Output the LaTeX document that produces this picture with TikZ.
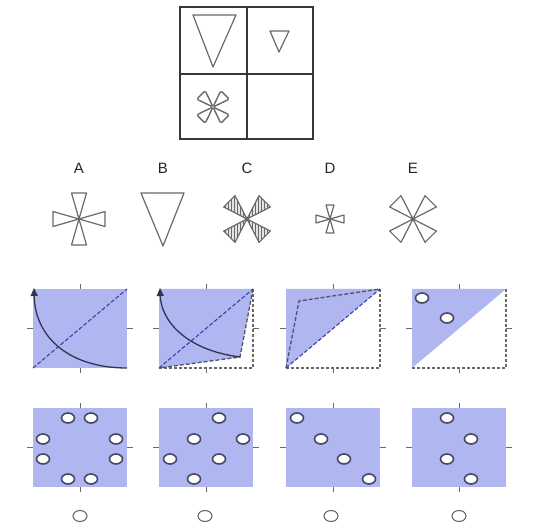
\documentclass[tikz,border=0pt]{standalone}
\usepackage{fontspec}
\setsansfont{Liberation Sans}
\usepackage{tikz}
\usetikzlibrary{arrows.meta, patterns}
\definecolor{panelblue}{RGB}{176,182,240}
\definecolor{dashblue}{RGB}{60,62,175}
\definecolor{curvecol}{RGB}{50,52,82}
\definecolor{shapegray}{RGB}{105,105,105}
\definecolor{gridgray}{RGB}{55,55,55}
\tikzstyle{gridline} = [draw=gridgray, line width=1.4pt]
\tikzstyle{shapeline} = [draw=shapegray, line width=1.2pt, line join=round]
\tikzstyle{hatched} = [shapeline, preaction={fill=gray!22}, pattern=vertical lines, pattern color=shapegray]
\tikzstyle{optlabel} = [font=\sffamily\fontsize{15}{17}\selectfont, text=black!85]
\tikzstyle{tickline} = [draw=shapegray, line width=1pt]
\tikzstyle{diagdash} = [draw=dashblue, line width=1.1pt, dash pattern=on 4pt off 2pt]
\tikzstyle{edgedash} = [draw=shapegray, line width=1.3pt, dash pattern=on 3pt off 2pt]
\tikzstyle{curve} = [draw=curvecol, line width=1.3pt, -{Triangle[width=7pt,length=8pt]}]
\tikzstyle{dot} = [draw=curvecol!90, fill=white, line width=1.6pt]
\tikzstyle{answer} = [draw=shapegray, line width=1.1pt]

% four triangular arms round a centre: style, x, y, start angle, length, half width
\newcommand{\fourarms}[6]{%
  \foreach \a in {0,90,180,270}
    \draw[#1, shift={(#2,#3)}, rotate=#4+\a] (0,0) -- (#5,#6) -- (#5,-#6) -- cycle;
}
% ticks on the four sides of a panel: left, top, right, bottom
\newcommand{\panelticks}[4]{%
  \draw[tickline] ({(#1+#3)/2},#2) -- ++(0,-5);
  \draw[tickline] ({(#1+#3)/2},#4) -- ++(0,5);
  \draw[tickline] (#1,{(#2+#4)/2}) -- ++(-6,0);
  \draw[tickline] (#3,{(#2+#4)/2}) -- ++(6,0);
}

\begin{document}
\begin{tikzpicture}[x=1pt, y=-1pt]
    \useasboundingbox (0,0) rectangle (550,532);

    % Grid
    \draw[gridline] (180,7) rectangle (313,139);
    \draw[gridline] (247,7) -- (247,139);
    \draw[gridline] (180,74) -- (313,74);
    \draw[shapeline] (193,15) -- (236,15) -- (213,67) -- cycle;
    \draw[shapeline] (270,31) -- (289,31) -- (279,52) -- cycle;
    \fourarms{shapeline, line width=1.4pt, rounded corners=1.5pt}{213}{107}{45}{17}{6}

    % Options
    \node[optlabel] (labA) at (79,168) {A};
    \node[optlabel] (labB) at (163,168) {B};
    \node[optlabel] (labC) at (247,168) {C};
    \node[optlabel] (labD) at (330,168) {D};
    \node[optlabel] (labE) at (413,168) {E};
    \fourarms{shapeline}{79}{219}{0}{26}{7.5}
    \draw[shapeline] (141,193) -- (184,193) -- (163,246) -- cycle;
    \fourarms{hatched}{247}{219}{45}{25}{8}
    \fourarms{shapeline}{330}{219}{0}{14}{4}
    \fourarms{shapeline}{413}{219}{45}{25}{8}

    % Row 1 panels
    \panelticks{33}{289}{127}{368}
    \fill[panelblue] (33,289) rectangle (127,368);
    \draw[diagdash] (33,368) -- (127,289);
    \draw[curve] (127,368) .. controls (70,368) and (35,338) .. (34,288);

    \panelticks{159}{289}{253}{368}
    \fill[panelblue] (159,289) -- (253,289) -- (240,357) -- (159,368) -- cycle;
    \draw[edgedash] (159,368) -- (253,368) -- (253,289);
    \draw[diagdash] (159,368) -- (253,289);
    \draw[diagdash, draw=curvecol!85, line width=1.3pt] (253,289) -- (240,357) -- (159,368);
    \draw[curve] (240,357) .. controls (185,350) and (161,320) .. (160,288);

    \panelticks{286}{289}{380}{368}
    \fill[panelblue] (286,289) -- (380,289) -- (286,368) -- cycle;
    \draw[edgedash] (286,368) -- (380,368) -- (380,289);
    \draw[diagdash] (286,368) -- (380,289);
    \draw[diagdash, draw=curvecol!85, line width=1.3pt] (286,368) -- (299,301) -- (380,289);

    \panelticks{412}{289}{506}{368}
    \fill[panelblue] (412,289) -- (506,289) -- (412,368) -- cycle;
    \draw[edgedash] (412,368) -- (506,368) -- (506,289);
    \draw[dot] (422,298) ellipse (6.5 and 5);
    \draw[dot] (447,318) ellipse (6.5 and 5);

    % Row 2 panels
    \panelticks{33}{408}{127}{487}
    \fill[panelblue] (33,408) rectangle (127,487);
    \draw[dot] (68,418) ellipse (6.5 and 5);
    \draw[dot] (91,418) ellipse (6.5 and 5);
    \draw[dot] (43,439) ellipse (6.5 and 5);
    \draw[dot] (116,439) ellipse (6.5 and 5);
    \draw[dot] (43,459) ellipse (6.5 and 5);
    \draw[dot] (116,459) ellipse (6.5 and 5);
    \draw[dot] (68,479) ellipse (6.5 and 5);
    \draw[dot] (91,479) ellipse (6.5 and 5);

    \panelticks{159}{408}{253}{487}
    \fill[panelblue] (159,408) rectangle (253,487);
    \draw[dot] (219,418) ellipse (6.5 and 5);
    \draw[dot] (194,439) ellipse (6.5 and 5);
    \draw[dot] (243,439) ellipse (6.5 and 5);
    \draw[dot] (170,459) ellipse (6.5 and 5);
    \draw[dot] (219,459) ellipse (6.5 and 5);
    \draw[dot] (194,479) ellipse (6.5 and 5);

    \panelticks{286}{408}{380}{487}
    \fill[panelblue] (286,408) rectangle (380,487);
    \draw[dot] (297,418) ellipse (6.5 and 5);
    \draw[dot] (321,439) ellipse (6.5 and 5);
    \draw[dot] (344,459) ellipse (6.5 and 5);
    \draw[dot] (369,479) ellipse (6.5 and 5);

    \panelticks{412}{408}{506}{487}
    \fill[panelblue] (412,408) rectangle (506,487);
    \draw[dot] (447,418) ellipse (6.5 and 5);
    \draw[dot] (471,439) ellipse (6.5 and 5);
    \draw[dot] (447,459) ellipse (6.5 and 5);
    \draw[dot] (471,479) ellipse (6.5 and 5);

    % Answers
    \draw[answer] (80,516) ellipse (7 and 5.5);
    \draw[answer] (205,516) ellipse (7 and 5.5);
    \draw[answer] (331,516) ellipse (7 and 5.5);
    \draw[answer] (459,516) ellipse (7 and 5.5);
\end{tikzpicture}
\end{document}
